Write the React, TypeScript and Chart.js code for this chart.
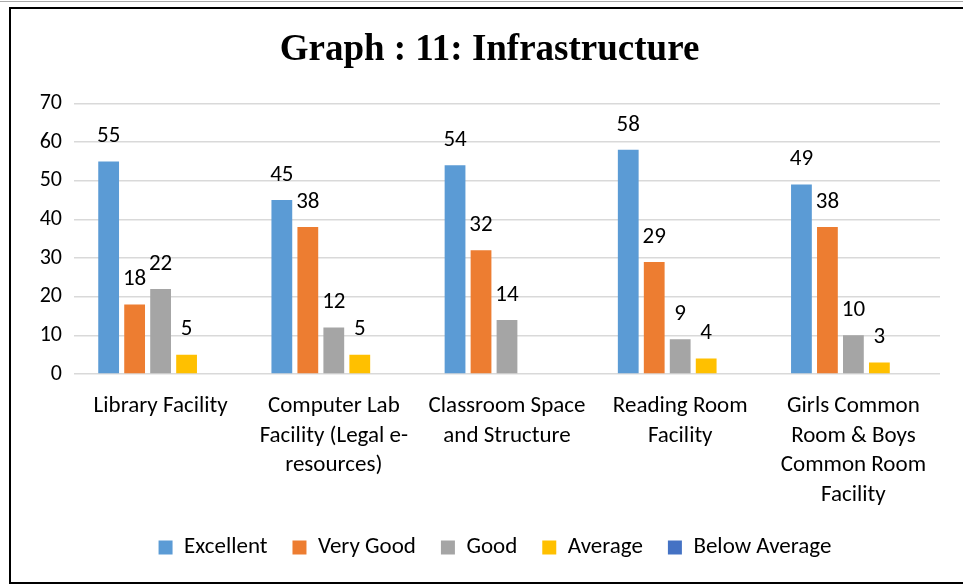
import React, { useEffect, useRef } from "react";
import { Chart, registerables } from "chart.js";

Chart.register(...registerables);

const titleText = "Graph : 11: Infrastructure";
const categories: string[][] = [
  ["Library Facility"],
  ["Computer Lab", "Facility (Legal e-", "resources)"],
  ["Classroom Space", "and Structure"],
  ["Reading Room", "Facility"],
  ["Girls Common", "Room & Boys", "Common Room", "Facility"],
];
const seriesNames = ["Excellent", "Very Good", "Good", "Average", "Below Average"];
const excellent = [55, 45, 54, 58, 49];
const veryGood = [18, 38, 32, 29, 38];
const good = [22, 12, 14, 9, 10];
const average = [5, 5, 0, 4, 3];
const belowAverage = [0, 0, 0, 0, 0];
const seriesColors = ["#5B9BD5", "#ED7D31", "#A5A5A5", "#FFC000", "#4472C4"];
const yMax = 70;
const yStep = 10;

const FONT = "Carlito, Lato, 'Open Sans', sans-serif";

const valueLabels = {
  id: "valueLabels",
  afterDatasetsDraw(chart: any) {
    const ctx = chart.ctx;
    ctx.save();
    ctx.font = `23px ${FONT}`;
    ctx.fillStyle = "#000";
    ctx.textAlign = "center";
    ctx.textBaseline = "middle";
    chart.data.datasets.forEach((ds: any, i: number) => {
      const meta = chart.getDatasetMeta(i);
      meta.data.forEach((el: any, j: number) => {
        const v = ds.data[j];
        if (!v) return;
        ctx.fillText(String(v), el.x, el.y - 25);
      });
    });
    ctx.restore();
  },
};

const boxShift = {
  id: "boxShift",
  afterLayout(chart: any) {
    const lg = chart.legend;
    if (lg) {
      lg.left -= 12;
      lg.right -= 12;
    }
    const tb = chart.titleBlock;
    if (tb) {
      tb.left += 14;
      tb.right += 14;
    }
  },
};

export default function App() {
  const ref = useRef<HTMLCanvasElement | null>(null);
  useEffect(() => {
    if (!ref.current) return;
    const allSeries = [excellent, veryGood, good, average, belowAverage];
    const chart = new Chart(ref.current, {
      type: "bar",
      data: {
        labels: categories,
        datasets: allSeries.map((d, i) => ({
          label: seriesNames[i],
          data: d,
          backgroundColor: seriesColors[i],
          borderWidth: 0,
          categoryPercentage: 0.75,
          barPercentage: 0.8,
        })),
      },
      options: {
        animation: false,
        responsive: false,
        maintainAspectRatio: false,
        layout: { padding: { left: 0, right: 23, top: 0, bottom: 13 } },
        plugins: {
          title: {
            display: true,
            text: titleText,
            color: "#000",
            font: { family: "'Liberation Serif', 'Times New Roman', serif", size: 37, weight: "bold" },
            padding: { top: 19, bottom: 31 },
          },
          legend: {
            position: "bottom",
            fullSize: false,
            labels: {
              color: "#000",
              font: { family: FONT, size: 23 },
              boxWidth: 14,
              boxHeight: 14,
              padding: 25,
            },
          },
          tooltip: { enabled: false },
        },
        scales: {
          x: {
            grid: { display: false, drawTicks: false },
            border: { display: false },
            ticks: {
              color: "#000",
              font: { family: FONT, size: 23, lineHeight: 1.28 },
              maxRotation: 0,
              autoSkip: false,
              padding: 18,
            },
            afterFit(scale: any) {
              scale.height = 137;
            },
          },
          y: {
            min: 0,
            max: yMax,
            ticks: {
              stepSize: yStep,
              color: "#000",
              font: { family: FONT, size: 22 },
              padding: 12,
            },
            grid: { color: "#D9D9D9", lineWidth: 1.5, drawTicks: false },
            border: { display: false },
            afterFit(scale: any) {
              scale.width = 63;
            },
          },
        },
      },
      plugins: [valueLabels, boxShift],
    });
    return () => chart.destroy();
  }, []);

  return (
    <div style={{ position: "fixed", left: 0, top: 0, width: 963, height: 584, background: "#fff", overflow: "hidden" }}>
      <div style={{ position: "absolute", left: 0, top: 1, width: 963, height: 1, background: "#aaa" }} />
      <div
        style={{
          position: "absolute",
          left: 9,
          top: 7,
          width: 1000,
          height: 573,
          borderTop: "2px solid #000",
          borderLeft: "2px solid #000",
          borderBottom: "2px solid #000",
        }}
      />
      <canvas ref={ref} width={952} height={573} style={{ position: "absolute", left: 11, top: 9, width: 952, height: 573 }} />
    </div>
  );
}
